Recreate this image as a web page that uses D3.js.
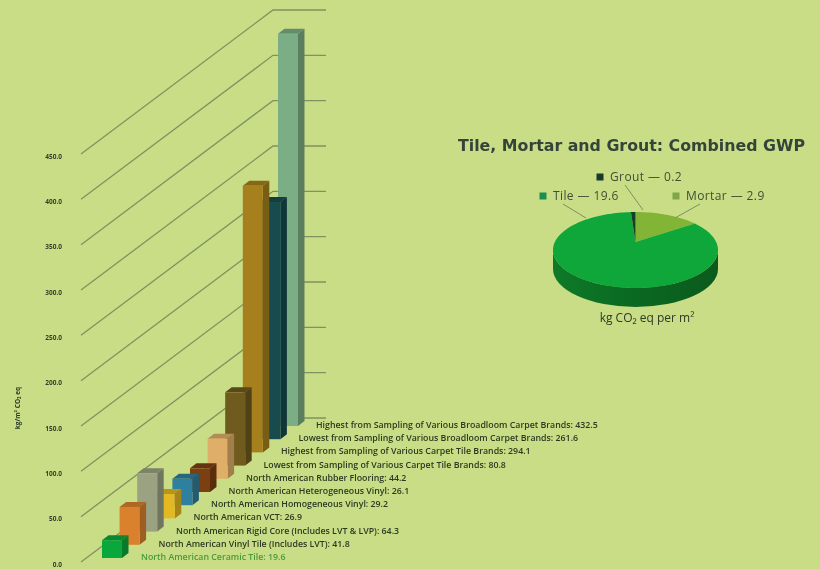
<!DOCTYPE html>
<html lang="en">
<head>
    <meta charset="UTF-8">
    <title>GWP comparison</title>
    <script src="https://d3js.org/d3.v7.min.js"></script>
</head>
<style>
    * {
        margin: 0;
        padding: 0;
    }
    body {
        background: #c8dd85;
    }
    svg {
        display: block;
        filter: blur(0.75px);
    }
    text {
        font-family: "Open Sans", sans-serif;
    }
</style>
<body>
<script>
    // flooring products, front to back
    var products = [
        "North American Ceramic Tile",
        "North American Vinyl Tile (Includes LVT)",
        "North American Rigid Core (Includes LVT & LVP)",
        "North American VCT",
        "North American Homogeneous Vinyl",
        "North American Heterogeneous Vinyl",
        "North American Rubber Flooring",
        "Lowest from Sampling of Various Carpet Tile Brands",
        "Highest from Sampling of Various Carpet Tile Brands",
        "Lowest from Sampling of Various Broadloom Carpet Brands",
        "Highest from Sampling of Various Broadloom Carpet Brands"
    ];
    var gwp = [19.6, 41.8, 64.3, 26.9, 29.2, 26.1, 44.2, 80.8, 294.1, 261.6, 432.5];
    var barColors = ["#0aa83c", "#d9812c", "#9aa282", "#e3b822", "#2f7f9f", "#7c3f12", "#dfae68", "#6f5b1e", "#a5801d", "#174b4d", "#7bae85"];
    var yTicks = [0, 50, 100, 150, 200, 250, 300, 350, 400, 450];

    var pieNames = ["Mortar", "Tile", "Grout"];
    var pieValues = [2.9, 19.6, 0.2];
    var pieColors = ["#82b535", "#0fa63a", "#14402a"];

    var width = 820,
        height = 569;

    var svg = d3.select("body")
                .append("svg")
                .attr("width", width)
                .attr("height", height);

    // 3d look: bars walk up a diagonal, value goes straight up
    var y = d3.scaleLinear().domain([0, 450]).range([562, 154]);
    var barX = d3.scaleLinear().domain([0, 10]).range([102, 278]);
    var barBase = d3.scaleLinear().domain([0, 10]).range([558, 426]);
    var barW = 20, sideW = 6.5, sideH = 5;

    // gridlines
    svg.append("g").selectAll("path")
        .data(yTicks)
        .enter()
        .append("path")
        .attr("d", function(d) {
            return "M81," + y(d) + "L273," + (y(d) - 144) + "L326," + (y(d) - 144);
        })
        .attr("fill", "none")
        .attr("stroke", "#7f9360")
        .attr("stroke-width", 1.3);

    // axis labels
    var axis = svg.append("g")
        .attr("transform", "translate(65,2)")
        .call(d3.axisLeft(y).tickValues(yTicks).tickFormat(d3.format(".1f")).tickSize(0));
    axis.select(".domain").remove();
    axis.selectAll("text")
        .style("font-family", "'Open Sans', sans-serif")
        .style("font-size", "6.5px")
        .style("font-weight", "700")
        .attr("fill", "#33402a");

    svg.append("text")
        .attr("transform", "translate(20,408) rotate(-90)")
        .attr("text-anchor", "middle")
        .style("font-size", "6.5px")
        .style("font-weight", "700")
        .attr("fill", "#2c3a28")
        .text("kg/m² CO₂ eq");

    // bars, back one first so the front ones overlap it
    var order = d3.range(gwp.length).reverse();
    var bars = svg.append("g").selectAll("g")
        .data(order)
        .enter()
        .append("g");

    // side
    bars.append("path")
        .attr("d", function(i) {
            var x1 = barX(i) + barW, b = barBase(i), t = b - (y(0) - y(gwp[i]));
            return "M" + x1 + "," + t + "L" + (x1 + sideW) + "," + (t - sideH) + "L" + (x1 + sideW) + "," + (b - sideH) + "L" + x1 + "," + b + "Z";
        })
        .attr("fill", function(i) { return d3.color(barColors[i]).darker(0.9); });
    // top
    bars.append("path")
        .attr("d", function(i) {
            var x0 = barX(i), b = barBase(i), t = b - (y(0) - y(gwp[i]));
            return "M" + x0 + "," + t + "L" + (x0 + sideW) + "," + (t - sideH) + "L" + (x0 + barW + sideW) + "," + (t - sideH) + "L" + (x0 + barW) + "," + t + "Z";
        })
        .attr("fill", function(i) { return d3.color(barColors[i]).darker(0.6); });
    // front
    bars.append("rect")
        .attr("x", function(i) { return barX(i); })
        .attr("y", function(i) { return barBase(i) - (y(0) - y(gwp[i])); })
        .attr("width", barW)
        .attr("height", function(i) { return y(0) - y(gwp[i]); })
        .attr("fill", function(i) { return barColors[i]; });

    // labels follow the same diagonal
    var labelX = d3.scaleLinear().domain([0, 10]).range([141, 316]);
    var labelY = d3.scaleLinear().domain([0, 10]).range([560, 428]);
    svg.append("g").selectAll("text")
        .data(products)
        .enter()
        .append("text")
        .attr("x", function(d, i) { return labelX(i); })
        .attr("y", function(d, i) { return labelY(i); })
        .style("font-size", "8.8px")
        .style("font-weight", "600")
        .attr("fill", function(d, i) { return i === 0 ? "#4a9a3a" : "#2c3a22"; })
        .text(function(d, i) { return d + ": " + gwp[i]; });

    // pie
    var cx = 635.5, cy = 250, rx = 82.5, ry = 38, depth = 19, apexY = 242;
    var pie = d3.pie().sort(null).value(function(d) { return d; })(pieValues);

    function rimPoint(a) {
        return [cx + rx * Math.sin(a), cy - ry * Math.cos(a)];
    }
    function wedge(d) {
        var pts = [[cx, apexY]];
        var n = Math.ceil((d.endAngle - d.startAngle) / 0.03);
        for (var k = 0; k <= n; k++) {
            pts.push(rimPoint(d.startAngle + (d.endAngle - d.startAngle) * k / n));
        }
        return d3.line()(pts) + "Z";
    }

    var defs = svg.append("defs");
    var grad = defs.append("linearGradient").attr("id", "pieSide");
    grad.append("stop").attr("offset", "0%").attr("stop-color", "#0e7a28");
    grad.append("stop").attr("offset", "45%").attr("stop-color", "#0a6a22");
    grad.append("stop").attr("offset", "100%").attr("stop-color", "#0b5a1c");

    svg.append("path")
        .attr("d", "M" + (cx - rx) + "," + cy +
            "A" + rx + "," + ry + " 0 0 0 " + (cx + rx) + "," + cy +
            "V" + (cy + depth) +
            "A" + rx + "," + ry + " 0 0 1 " + (cx - rx) + "," + (cy + depth) + "Z")
        .attr("fill", "url(#pieSide)");

    svg.append("g").selectAll("path")
        .data(pie)
        .enter()
        .append("path")
        .attr("d", wedge)
        .attr("fill", function(d, i) { return pieColors[i]; });

    // leader lines
    var leaders = [[700, 204, 675, 218], [563, 204, 586, 218], [625, 185, 643, 210]];
    svg.append("g").selectAll("line")
        .data(leaders)
        .enter()
        .append("line")
        .attr("x1", function(d) { return d[0]; })
        .attr("y1", function(d) { return d[1]; })
        .attr("x2", function(d) { return d[2]; })
        .attr("y2", function(d) { return d[3]; })
        .attr("stroke", "#7f8f60")
        .attr("stroke-width", 1);

    // legend
    var legendPos = [[676, 196], [543, 196], [600, 177]];
    var legendSquare = ["#7fa64a", "#1b8f50", "#173a2c"];
    var legend = svg.append("g").selectAll("g")
        .data(pieNames)
        .enter()
        .append("g")
        .attr("transform", function(d, i) { return "translate(" + legendPos[i][0] + "," + legendPos[i][1] + ")"; });
    legend.append("rect")
        .attr("x", -3.5)
        .attr("y", -3.5)
        .attr("width", 7)
        .attr("height", 7)
        .attr("fill", function(d, i) { return legendSquare[i]; });
    legend.append("text")
        .attr("x", 10)
        .attr("y", 4)
        .style("font-size", "12px")
        .style("letter-spacing", "0.4px")
        .attr("fill", "#3f4f35")
        .text(function(d, i) { return d + " — " + pieValues[i]; });

    svg.append("text")
        .attr("x", 458)
        .attr("y", 151)
        .style("font-family", "'DejaVu Sans', sans-serif")
        .style("font-size", "15.8px")
        .style("font-weight", "700")
        .attr("fill", "#35443a")
        .text("Tile, Mortar and Grout: Combined GWP");

    svg.append("text")
        .attr("x", 647)
        .attr("y", 322)
        .attr("text-anchor", "middle")
        .style("font-size", "12px")
        .attr("fill", "#2c3a28")
        .text("kg CO₂ eq per m²");
</script>
</body>
</html>
